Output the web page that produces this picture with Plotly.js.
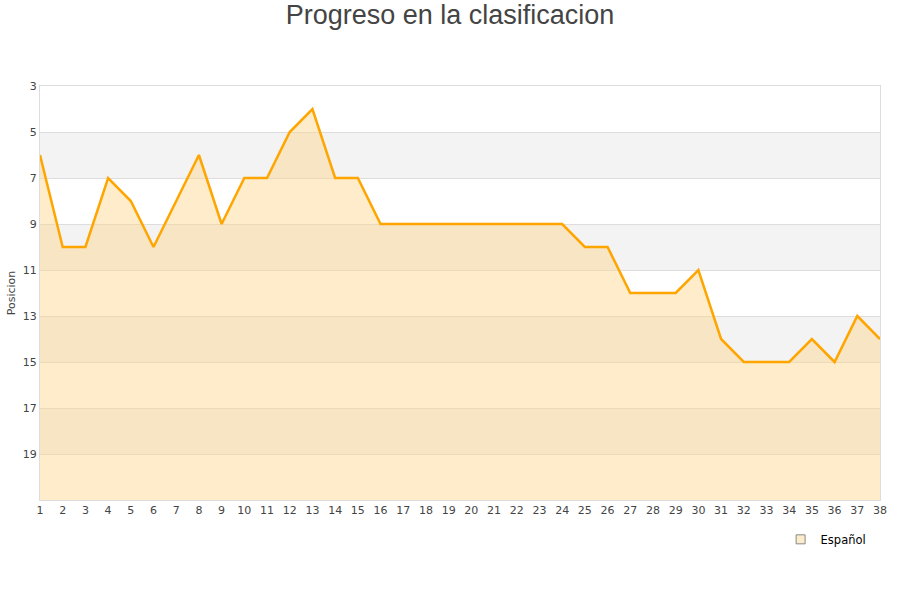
<!DOCTYPE html>
<html>
<head>
<meta charset="utf-8">
<script src="https://cdn.plot.ly/plotly-3.0.1.min.js"></script>
<style>html,body{margin:0;padding:0;background:#fff;}#chart{width:900px;height:600px;}</style>
</head>
<body>
<div id="chart"></div>
<script>
var jornadas = [1,2,3,4,5,6,7,8,9,10,11,12,13,14,15,16,17,18,19,20,21,22,23,24,25,26,27,28,29,30,31,32,33,34,35,36,37,38];
var posiciones = [6,10,10,7,8,10,8,6,9,7,7,5,4,7,7,9,9,9,9,9,9,9,9,9,10,10,12,12,12,11,14,15,15,15,14,15,13,14];
var yTicks = [3,5,7,9,11,13,15,17,19];
var serieNombre = 'Español';
var yMin = 3, yMax = 21;

var shapes = [];
for (var b = yMin + 2; b < yMax; b += 4) {
  shapes.push({type:'rect', xref:'paper', yref:'y', x0:0, x1:1, y0:b, y1:b+2,
    fillcolor:'#f3f3f3', line:{width:0}, layer:'below'});
}

var traces = [
  {x: jornadas, y: jornadas.map(function(){return yMax;}), mode:'lines', line:{width:0},
   hoverinfo:'skip', showlegend:false},
  {x: jornadas, y: posiciones, mode:'lines', fill:'tonexty', fillcolor:'rgba(255,213,140,0.45)',
   line:{color:'#ffa500', width:2.5}, name: serieNombre, showlegend:false},
  {x:[null], y:[null], mode:'markers', name: serieNombre,
   marker:{symbol:'square', size:9, color:'#fdeccb', line:{color:'#888', width:1}}}
];

var layout = {
  width:900, height:600,
  paper_bgcolor:'#fff', plot_bgcolor:'rgba(0,0,0,0)',
  margin:{l:40, r:20, t:86, b:100},
  title:{text:'Progreso en la clasificacion', x:0.5, xanchor:'center', y:0.975, yanchor:'middle',
    font:{family:'Liberation Sans, Arial, sans-serif', size:27, color:'#444'}},
  font:{family:'DejaVu Sans, sans-serif', size:11, color:'#444'},
  xaxis:{range:[1,38], tickvals:jornadas, ticktext:jornadas.map(String), showgrid:false,
    zeroline:false, showline:true, linecolor:'#ddd', mirror:true, ticks:'', fixedrange:true,
    tickfont:{size:11, color:'#444'}},
  yaxis:{range:[yMax, yMin], tickvals:yTicks, showgrid:true, gridcolor:'#ddd', gridwidth:1,
    zeroline:false, showline:true, linecolor:'#ddd', mirror:true, ticks:'',
    title:{text:'Posicion', font:{size:11, color:'#444'}, standoff:4},
    tickfont:{size:11, color:'#444'}},
  shapes: shapes,
  showlegend:true,
  legend:{x:0.99, xanchor:'right', y:-0.06, yanchor:'top', orientation:'h',
    font:{size:11.5, color:'#000'}, bgcolor:'rgba(0,0,0,0)'}
};

Plotly.newPlot('chart', traces, layout, {displayModeBar:false, staticPlot:true});
</script>
</body>
</html>
